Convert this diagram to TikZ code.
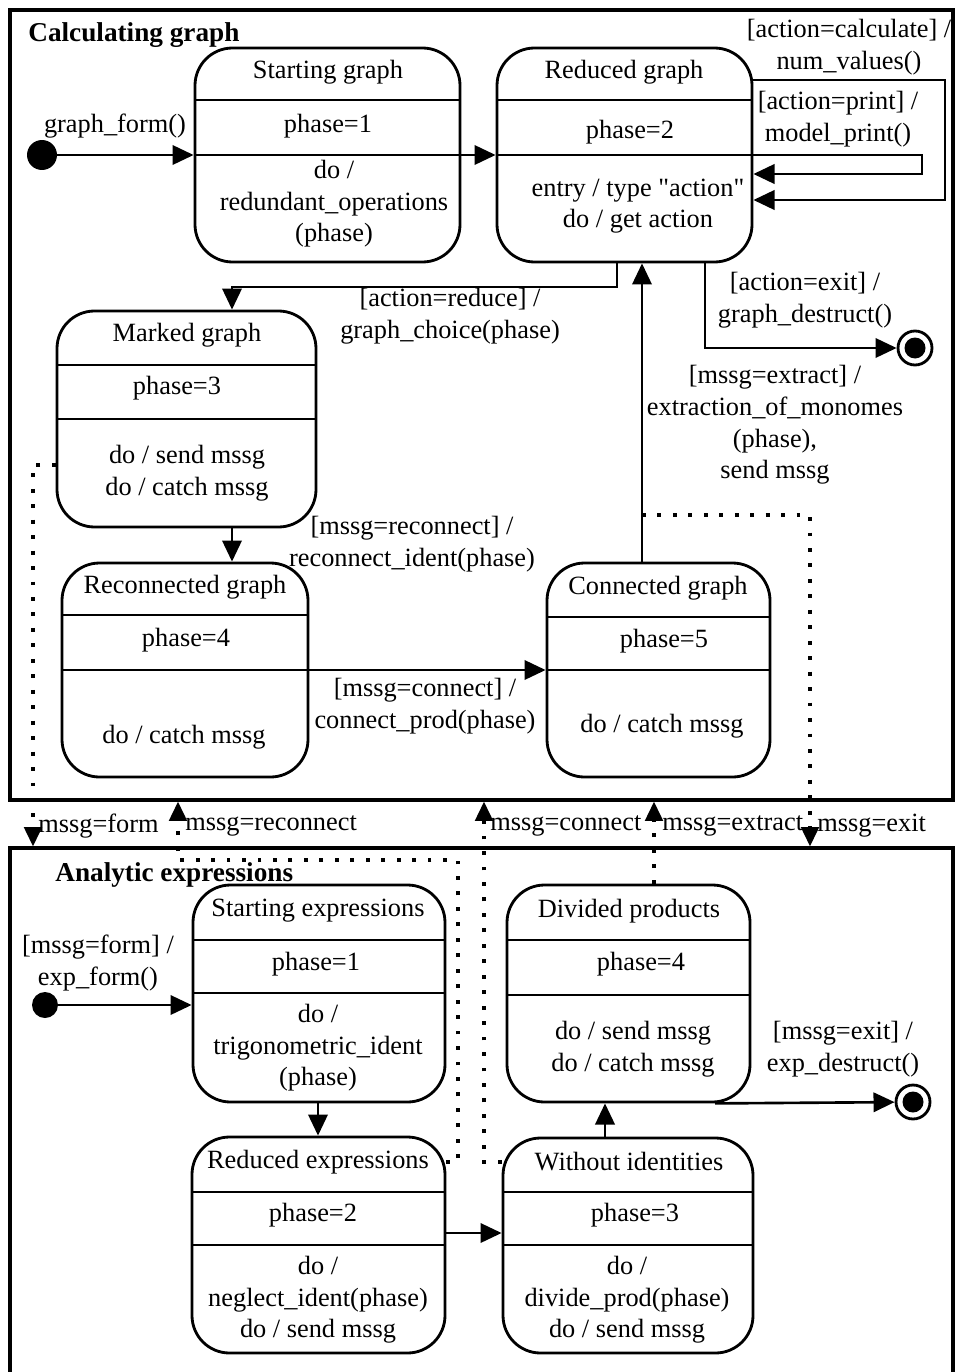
\documentclass[tikz,border=0pt]{standalone}
\usepackage{fontspec}
\setmainfont{Liberation Serif}
\usetikzlibrary{arrows.meta,fit}

\tikzset{
  statebox/.style={draw, line width=1.6pt, rounded corners=0.75cm, inner sep=0pt},
  areabox/.style={draw, line width=1.8pt, inner sep=0pt},
  sepline/.style={line width=1.6pt},
  txt/.style={inner sep=0pt, align=center},
  trans/.style={line width=1.5pt, -{Triangle[length=12pt,width=11pt]}},
  msg/.style={line width=1.9pt, dash pattern=on 2.2pt off 6.6pt, -{Triangle[length=11pt,width=10pt]}},
  initst/.style={circle, fill, inner sep=0pt, minimum size=0.6cm},
  finalst/.style={circle, draw, line width=1.6pt, fill=white, inner sep=0pt, minimum size=0.68cm},
}

\begin{document}
\begin{tikzpicture}[x=0.02cm, y=-0.02cm, font=\fontsize{15}{18}\selectfont]
\useasboundingbox (0,0) rectangle (956,1372);
\clip (0,0) rectangle (956,1372);

% the two areas
\node[areabox, fit={(10,10) (953,800)}] (upper) {};
\node[areabox, fit={(10,848) (953,1400)}] (lower) {};
\node[txt, anchor=west, font=\fontsize{15.5}{18}\selectfont\bfseries] (uptitle) at (28,35) {Calculating graph};
\node[txt, anchor=west, font=\fontsize{15.5}{18}\selectfont\bfseries] (lowtitle) at (55,875) {Analytic expressions};

% states
\node[statebox, fit={(195,48) (460,262)}] (sg) {};
\node[statebox, fit={(497,48) (752,262)}] (rg) {};
\node[statebox, fit={(57,311) (316,527)}] (mg) {};
\node[statebox, fit={(62,563) (308,777)}] (rcg) {};
\node[statebox, fit={(547,563) (770,777)}] (cg) {};
\node[statebox, fit={(193,885) (445,1102)}] (sex) {};
\node[statebox, fit={(192,1137) (445,1353)}] (rex) {};
\node[statebox, fit={(507,885) (750,1102)}] (dp) {};
\node[statebox, fit={(503,1138) (753,1353)}] (wi) {};

\foreach \a/\b/\y in {195/460/100, 195/460/155, 497/752/100, 497/752/155,
  57/316/365, 57/316/419, 62/308/615, 62/308/670, 547/770/617, 547/770/670,
  193/445/940, 193/445/993, 192/445/1192, 192/445/1245,
  507/750/940, 507/750/995, 503/753/1192, 503/753/1245}
  \draw[sepline] (\a,\y) -- (\b,\y);

% state texts
\node[txt] (sg1) at (328,72) {Starting graph};
\node[txt] (sg2) at (328,126) {phase=1};
\node[txt] (sg3) at (334,204) {do /\\redundant\_operations\\(phase)};
\node[txt] (rg1) at (624,72) {Reduced graph};
\node[txt] (rg2) at (630,132) {phase=2};
\node[txt] (rg3) at (638,206) {entry / type {\addfontfeature{Ligatures=TeXOff}"action"}\\do / get action};
\node[txt] (mg1) at (187,335) {Marked graph};
\node[txt] (mg2) at (177,388) {phase=3};
\node[txt] (mg3) at (187,473) {do / send mssg\\do / catch mssg};
\node[txt] (rcg1) at (185,587) {Reconnected graph};
\node[txt] (rcg2) at (186,640) {phase=4};
\node[txt] (rcg3) at (184,737) {do / catch mssg};
\node[txt] (cg1) at (658,588) {Connected graph};
\node[txt] (cg2) at (664,641) {phase=5};
\node[txt] (cg3) at (662,726) {do / catch mssg};
\node[txt] (sex1) at (318,911) {Starting expressions};
\node[txt] (sex2) at (316,964) {phase=1};
\node[txt] (sex3) at (318,1048) {do /\\trigonometric\_ident\\(phase)};
\node[txt] (rex1) at (318,1162) {Reduced expressions};
\node[txt] (rex2) at (313,1215) {phase=2};
\node[txt] (rex3) at (318,1300) {do /\\neglect\_ident(phase)\\do / send mssg};
\node[txt] (dp1) at (629,911) {Divided products};
\node[txt] (dp2) at (641,964) {phase=4};
\node[txt] (dp3) at (633,1049) {do / send mssg\\do / catch mssg};
\node[txt] (wi1) at (629,1162) {Without identities};
\node[txt] (wi2) at (635,1215) {phase=3};
\node[txt] (wi3) at (627,1300) {do /\\divide\_prod(phase)\\do / send mssg};

% initial and final states
\node[initst] (ini1) at (42,155) {};
\node[initst, minimum size=0.52cm] (ini2) at (45,1005) {};
\node[finalst] (fin1) at (915,348) {};
\node[finalst] (fin2) at (913,1102) {};
\fill (fin1) circle (0.21cm);
\fill (fin2) circle (0.21cm);

% bends
\coordinate (loopA) at (945,80);
\coordinate (loopB) at (945,200);
\coordinate (loopC) at (922,155);
\coordinate (loopD) at (922,174);
\coordinate (bendR) at (617,287);
\coordinate (bendM) at (232,287);
\coordinate (rowC) at (0,670);
\coordinate (colE) at (642,515);
\coordinate (bendX) at (705,348);
\coordinate (rowD) at (0,1233);
\coordinate (colW) at (605,0);
\coordinate (colS) at (318,0);
\coordinate (exitL) at (715,0);

% transitions
\draw[trans] (ini1) -- (sg.west |- ini1);
\draw[trans] (sg.east |- ini1) -- (rg.west |- ini1);
\draw[trans] (rg.east |- loopA) -- (loopA) -- (loopB) -- (rg.east |- loopB);
\draw[trans] (rg.east |- loopC) -- (loopC) -- (loopD) -- (rg.east |- loopD);
\draw[trans] (rg.south -| bendR) -- (bendR) -| (mg.north -| bendM);
\draw[trans] (mg.south -| bendM) -- (rcg.north -| bendM);
\draw[trans] (rcg.east |- rowC) -- (cg.west |- rowC);
\draw[trans] (cg.north -| colE) -- (rg.south -| colE);
\draw[trans] (rg.south -| bendX) -- (bendX) -- (fin1);
\draw[trans] (ini2) -- (sex.west |- ini2);
\draw[trans] (sex.south -| colS) -- (rex.north -| colS);
\draw[trans] (rex.east |- rowD) -- (wi.west |- rowD);
\draw[trans] (wi.north -| colW) -- (dp.south -| colW);
\draw[trans] (dp.south -| exitL) -- (fin2);

% messages between the areas
\coordinate (mF) at (33,465);
\coordinate (mR1) at (458,1162);
\coordinate (mR2) at (458,860);
\coordinate (mR3) at (178,860);
\coordinate (mC) at (484,1162);
\coordinate (mX) at (654,0);
\coordinate (mE) at (810,515);
\draw[msg] (mg.west |- mF) -- (mF) -- (mF |- lower.north);
\draw[msg] (rex.east |- mR1) -- (mR1) -- (mR2) -- (mR3) -- (mR3 |- upper.south);
\draw[msg] (wi.west |- mC) -- (mC) -- (mC |- upper.south);
\draw[msg] (dp.north -| mX) -- (mX |- upper.south);
\draw[msg] (colE) -- (mE) -- (mE |- lower.north);

% labels
\node[txt] (lbl1) at (115,126) {graph\_form()};
\node[txt] (lbl2) at (849,47) {[action=calculate] /\\num\_values()};
\node[txt] (lbl3) at (838,119) {[action=print] /\\model\_print()};
\node[txt] (lbl4) at (450,316) {[action=reduce] /\\graph\_choice(phase)};
\node[txt] (lbl5) at (805,300) {[action=exit] /\\graph\_destruct()};
\node[txt] (lbl6) at (775,425) {[mssg=extract] /\\extraction\_of\_monomes\\(phase),\\send mssg};
\node[txt] (lbl7) at (412,544) {[mssg=reconnect] /\\reconnect\_ident(phase)};
\node[txt] (lbl8) at (425,706) {[mssg=connect] /\\connect\_prod(phase)};
\node[txt] (lbl9) at (98,963) {[mssg=form] /\\exp\_form()};
\node[txt] (lbl10) at (843,1049) {[mssg=exit] /\\exp\_destruct()};
\node[txt, anchor=west] (m1) at (38,826) {mssg=form};
\node[txt, anchor=west] (m2) at (185,826) {mssg=reconnect};
\node[txt, anchor=west] (m3) at (490,826) {mssg=connect};
\node[txt, anchor=west] (m4) at (662,826) {mssg=extract};
\node[txt, anchor=west] (m5) at (817,826) {mssg=exit};
\end{tikzpicture}
\end{document}
